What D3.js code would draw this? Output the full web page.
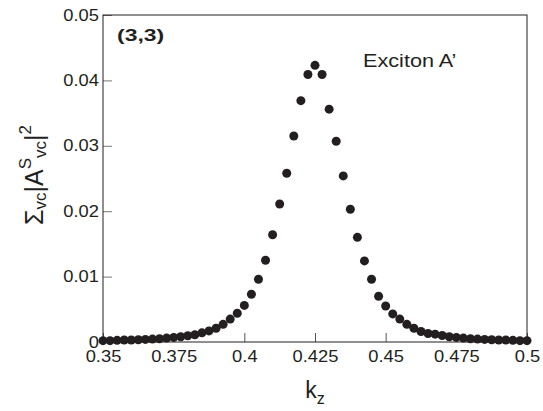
<!DOCTYPE html>
<html>
<head>
<meta charset="utf-8">
<script src="https://cdn.jsdelivr.net/npm/d3@7"></script>
<style>
  body { margin: 0; background: #fff; }
  svg { font-family: "Liberation Sans", Arial, sans-serif; }
</style>
</head>
<body>
<svg width="543" height="411"></svg>
<script>
// k_z grid and summed weights
var kz = [0.35, 0.3525, 0.355, 0.3575, 0.36, 0.3625, 0.365, 0.3675, 0.37, 0.3725,
          0.375, 0.3775, 0.38, 0.3825, 0.385, 0.3875, 0.39, 0.3925, 0.395, 0.3975,
          0.4, 0.4025, 0.405, 0.4075, 0.41, 0.4125, 0.415, 0.4175, 0.42, 0.4225,
          0.425, 0.4275, 0.43, 0.4325, 0.435, 0.4375, 0.44, 0.4425, 0.445, 0.4475,
          0.45, 0.4525, 0.455, 0.4575, 0.46, 0.4625, 0.465, 0.4675, 0.47, 0.4725,
          0.475, 0.4775, 0.48, 0.4825, 0.485, 0.4875, 0.49, 0.4925, 0.495, 0.4975, 0.5];
var weight = [0.0002, 0.0002, 0.00025, 0.0003, 0.0003, 0.00035, 0.0004, 0.00045, 0.0005, 0.0006,
              0.0007, 0.0008, 0.00095, 0.0011, 0.0014, 0.0017, 0.0021, 0.0027, 0.0035, 0.0044,
              0.0056, 0.0073, 0.0096, 0.0125, 0.0164, 0.0211, 0.0258, 0.0315, 0.0369, 0.0409,
              0.0423, 0.0409, 0.0356, 0.0307, 0.0254, 0.0203, 0.0160, 0.0124, 0.0096, 0.0070,
              0.0055, 0.0043, 0.0035, 0.0027, 0.0021, 0.0016, 0.0013, 0.0012, 0.0010, 0.0008,
              0.0007, 0.0006, 0.0005, 0.00045, 0.0004, 0.00035, 0.0003, 0.0003, 0.00025, 0.0002, 0.0002];
var xTicks = [0.35, 0.375, 0.4, 0.425, 0.45, 0.475, 0.5];
var xTickLabels = ["0.35", "0.375", "0.4", "0.425", "0.45", "0.475", "0.5"];
var yTicks = [0, 0.01, 0.02, 0.03, 0.04, 0.05];
var yTickLabels = ["0", "0.01", "0.02", "0.03", "0.04", "0.05"];

function drawChart() {
  var svg = d3.select("svg"),
      mLeft = 103, mRight = 527, mTop = 15, mBottom = 342,
      ink = "#231f20";

  var x = d3.scaleLinear().domain([0.35, 0.5]).range([mLeft, mRight]);
  var y = d3.scaleLinear().domain([0, 0.05]).range([mBottom, mTop]);

  // bottom axis, ticks pointing inward
  var gx = svg.append("g")
      .attr("transform", "translate(0," + mBottom + ")")
      .call(d3.axisBottom(x).tickValues(xTicks).tickSize(-9).tickPadding(9)
        .tickFormat(function (d, i) { return xTickLabels[i]; }));
  gx.select(".domain").remove();
  gx.selectAll(".tick line").attr("stroke", "#555");
  gx.selectAll(".tick text")
      .attr("fill", ink)
      .style("font-size", "15.8px")
      .attr("transform", "scale(1.16,1)");

  // left axis
  var gy = svg.append("g")
      .attr("transform", "translate(" + mLeft + ",0)")
      .call(d3.axisLeft(y).tickValues(yTicks).tickSize(-9)
        .tickFormat(function (d, i) { return yTickLabels[i]; }));
  gy.select(".domain").remove();
  gy.selectAll(".tick line").attr("stroke", "#777");
  gy.selectAll(".tick text")
      .attr("x", 0)
      .attr("fill", ink)
      .style("font-size", "15.8px")
      .attr("transform", "translate(-4,0) scale(1.16,1)");

  // frame
  svg.append("rect")
      .attr("x", mLeft).attr("y", mTop)
      .attr("width", mRight - mLeft).attr("height", mBottom - mTop)
      .attr("fill", "none").attr("stroke", ink).attr("stroke-width", 1);

  // dots
  svg.append("g")
     .selectAll("circle")
     .data(kz.map(function (k, i) { return [k, weight[i]]; }))
     .enter()
     .append("circle")
     .attr("cx", function (d) { return x(d[0]); })
     .attr("cy", function (d) { return y(d[1]); })
     .attr("r", 4.5)
     .attr("fill", ink);

  // annotations
  svg.append("text")
      .attr("x", 117).attr("y", 41)
      .attr("font-weight", "bold")
      .style("font-size", "17px")
      .attr("fill", ink)
      .attr("transform", "translate(117,0) scale(1.35,1) translate(-117,0)")
      .text("(3,3)");

  svg.append("text")
      .attr("x", 363).attr("y", 67)
      .style("font-size", "19px")
      .attr("fill", ink)
      .attr("transform", "translate(363,0) scale(1.14,1) translate(-363,0)")
      .text("Exciton A\u2019");

  // x label
  var xl = svg.append("text")
      .attr("x", 315).attr("y", 398)
      .attr("text-anchor", "middle")
      .attr("fill", ink)
      .style("font-size", "23px");
  xl.append("tspan").text("k");
  xl.append("tspan").attr("dy", 6).style("font-size", "16px").text("z");

  // y label
  var yl = svg.append("text")
      .attr("transform", "translate(43,175) rotate(-90)")
      .attr("text-anchor", "middle")
      .attr("fill", ink)
      .style("font-size", "25px");
  yl.append("tspan").text("\u03A3");
  yl.append("tspan").attr("dy", 3).style("font-size", "17px").text("vc");
  yl.append("tspan").attr("dy", -3).text("|A");
  yl.append("tspan").attr("dy", -12).style("font-size", "17px").text("S");
  yl.append("tspan").attr("dy", 15).style("font-size", "17px").text("vc");
  yl.append("tspan").attr("dy", -3).text("|");
  yl.append("tspan").attr("dy", -12).style("font-size", "17px").text("2");
}

drawChart();
</script>
</body>
</html>
